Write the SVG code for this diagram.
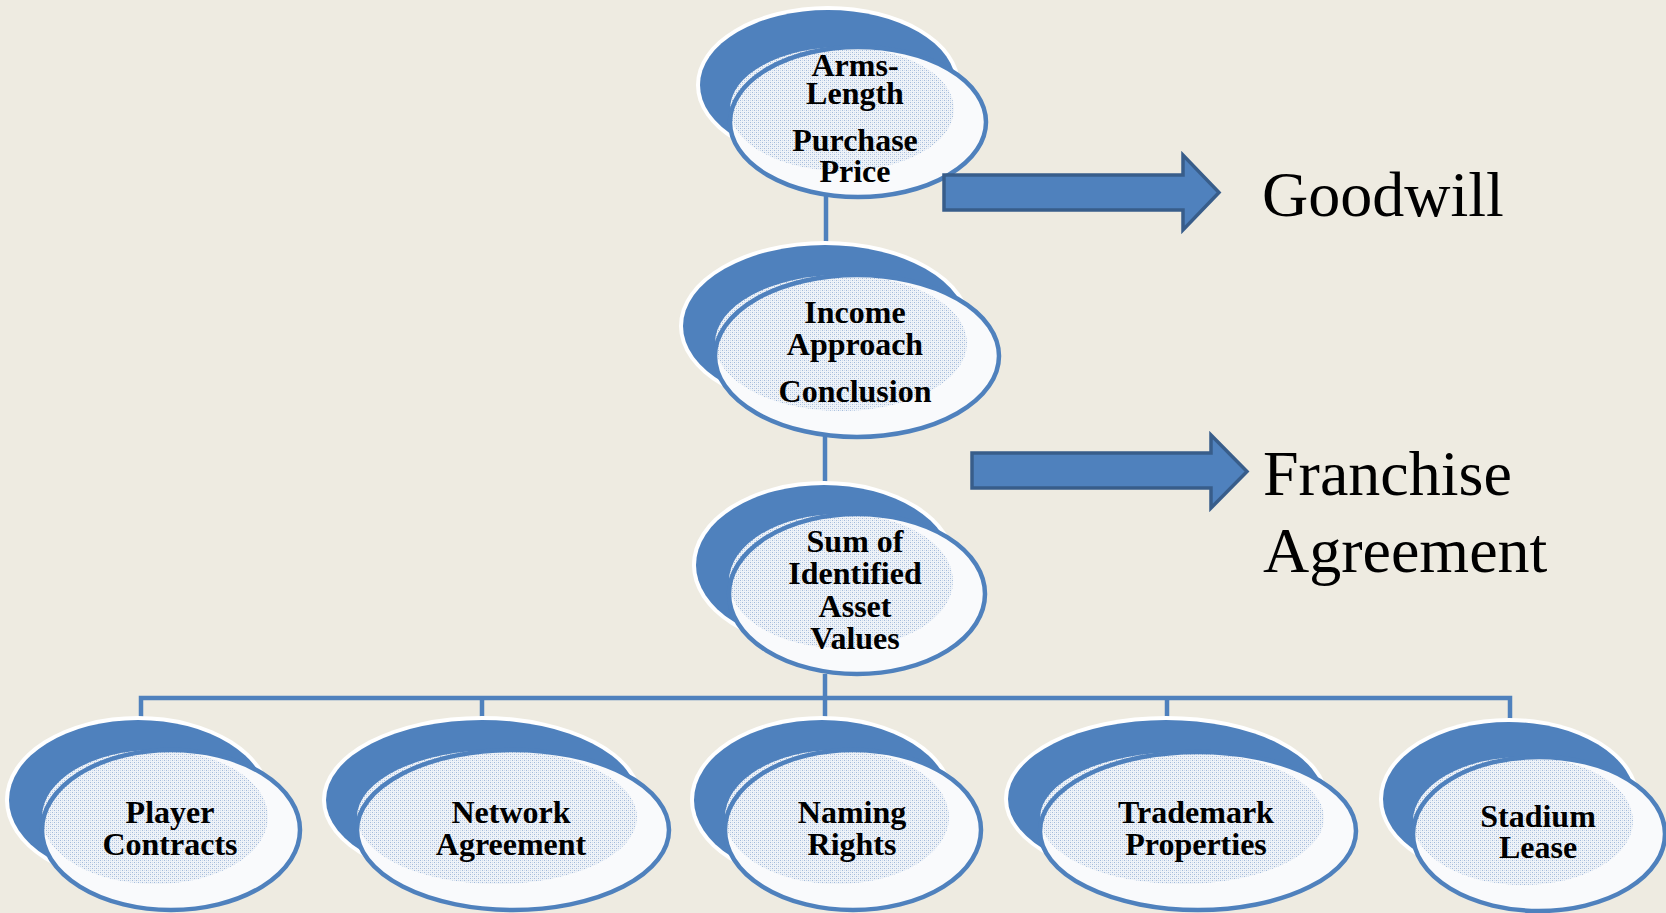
<svg xmlns="http://www.w3.org/2000/svg" width="1666" height="913" viewBox="0 0 1666 913">
<defs>
<pattern id="dots" width="4" height="4" patternUnits="userSpaceOnUse">
<rect width="4" height="4" fill="#eff3f8"/>
<rect x="0" y="0" width="1" height="1" fill="#a3bada"/>
<rect x="2" y="2" width="1" height="1" fill="#a3bada"/>
<rect x="2" y="0" width="1" height="1" fill="#cfdbec"/>
<rect x="0" y="2" width="1" height="1" fill="#cfdbec"/>
</pattern>
</defs>
<style>
.bg{fill:#eeebe1}
.edge{fill:#ffffff}
.back{fill:#4f81bd}
.face{fill:#f9fafc}
.inner{fill:url(#dots)}
.rim{fill:none;stroke:#4f81bd;stroke-width:4.5}
.lbl{font-family:"Liberation Serif","Times New Roman",serif;font-weight:bold;font-size:32px;fill:#000;text-anchor:middle}
.big{font-family:"Liberation Serif","Times New Roman",serif;font-size:64px;fill:#000}
.conn{fill:none;stroke:#4f81bd;stroke-width:4.5}
.arrow{fill:#4f81bd;stroke:#385d8a;stroke-width:3.5;stroke-linejoin:miter}
</style>
<rect class="bg" x="0" y="0" width="1666" height="913"/>

<g id="connectors">
<path class="conn" d="M826 195 V248"/>
<path class="conn" d="M825 435 V488"/>
<path class="conn" d="M825 674 V699"/>
<path class="conn" d="M141 724 V698 H1510 V726"/>
<path class="conn" d="M482 698 V724"/>
<path class="conn" d="M825 698 V724"/>
<path class="conn" d="M1167 698 V724"/>
</g>

<g id="node-arms-length">
<ellipse class="edge" cx="828" cy="85" rx="132" ry="79"/>
<ellipse class="back" cx="828" cy="85" rx="128" ry="75"/>
<ellipse class="face" cx="858" cy="122" rx="128" ry="75"/>
<ellipse class="inner" cx="842" cy="109" rx="112" ry="62"/>
<ellipse class="rim" cx="858" cy="122" rx="128" ry="75"/>
<text class="lbl" x="855" y="76">Arms-</text>
<text class="lbl" x="855" y="104">Length</text>
<text class="lbl" x="855" y="151">Purchase</text>
<text class="lbl" x="855" y="182">Price</text>
</g>

<g id="node-income">
<ellipse class="edge" cx="825" cy="326" rx="146" ry="85"/>
<ellipse class="back" cx="825" cy="326" rx="142" ry="81"/>
<ellipse class="face" cx="857" cy="356" rx="142" ry="81"/>
<ellipse class="inner" cx="841" cy="343" rx="126" ry="68"/>
<ellipse class="rim" cx="857" cy="356" rx="142" ry="81"/>
<text class="lbl" x="855" y="323">Income</text>
<text class="lbl" x="855" y="355">Approach</text>
<text class="lbl" x="855" y="402">Conclusion</text>
</g>

<g id="node-sum">
<ellipse class="edge" cx="824" cy="565" rx="132" ry="84"/>
<ellipse class="back" cx="824" cy="565" rx="128" ry="80"/>
<ellipse class="face" cx="857" cy="594" rx="128" ry="80"/>
<ellipse class="inner" cx="841" cy="581" rx="112" ry="67"/>
<ellipse class="rim" cx="857" cy="594" rx="128" ry="80"/>
<text class="lbl" x="855" y="552">Sum of</text>
<text class="lbl" x="855" y="584">Identified</text>
<text class="lbl" x="855" y="617">Asset</text>
<text class="lbl" x="855" y="649">Values</text>
</g>

<g id="node-player">
<ellipse class="edge" cx="138" cy="800" rx="133" ry="84"/>
<ellipse class="back" cx="138" cy="800" rx="129" ry="80"/>
<ellipse class="face" cx="171" cy="830" rx="129" ry="80"/>
<ellipse class="inner" cx="155" cy="817" rx="113" ry="67"/>
<ellipse class="rim" cx="171" cy="830" rx="129" ry="80"/>
<text class="lbl" x="170" y="823">Player</text>
<text class="lbl" x="170" y="855">Contracts</text>
</g>

<g id="node-network">
<ellipse class="edge" cx="482" cy="800" rx="160" ry="84"/>
<ellipse class="back" cx="482" cy="800" rx="156" ry="80"/>
<ellipse class="face" cx="513" cy="830" rx="156" ry="80"/>
<ellipse class="inner" cx="497" cy="817" rx="140" ry="67"/>
<ellipse class="rim" cx="513" cy="830" rx="156" ry="80"/>
<text class="lbl" x="511" y="823">Network</text>
<text class="lbl" x="511" y="855">Agreement</text>
</g>

<g id="node-naming">
<ellipse class="edge" cx="822" cy="800" rx="132" ry="84"/>
<ellipse class="back" cx="822" cy="800" rx="128" ry="80"/>
<ellipse class="face" cx="853" cy="830" rx="128" ry="80"/>
<ellipse class="inner" cx="837" cy="817" rx="112" ry="67"/>
<ellipse class="rim" cx="853" cy="830" rx="128" ry="80"/>
<text class="lbl" x="852" y="823">Naming</text>
<text class="lbl" x="852" y="855">Rights</text>
</g>

<g id="node-trademark">
<ellipse class="edge" cx="1166" cy="799" rx="162" ry="83"/>
<ellipse class="back" cx="1166" cy="799" rx="158" ry="79"/>
<ellipse class="face" cx="1198" cy="831" rx="158" ry="79"/>
<ellipse class="inner" cx="1182" cy="818" rx="142" ry="66"/>
<ellipse class="rim" cx="1198" cy="831" rx="158" ry="79"/>
<text class="lbl" x="1196" y="823">Trademark</text>
<text class="lbl" x="1196" y="855">Properties</text>
</g>

<g id="node-stadium">
<ellipse class="edge" cx="1509" cy="799" rx="130" ry="81"/>
<ellipse class="back" cx="1509" cy="799" rx="126" ry="77"/>
<ellipse class="face" cx="1539" cy="834" rx="126" ry="77"/>
<ellipse class="inner" cx="1523" cy="821" rx="110" ry="64"/>
<ellipse class="rim" cx="1539" cy="834" rx="126" ry="77"/>
<text class="lbl" x="1538" y="827">Stadium</text>
<text class="lbl" x="1538" y="858">Lease</text>
</g>

<g id="arrows">
<polygon class="arrow" points="944,175 1183,175 1183,155 1219,192.5 1183,230 1183,210 944,210"/>
<polygon class="arrow" points="972,453 1211,453 1211,435 1247,471.5 1211,508 1211,488 972,488"/>
</g>

<g id="labels">
<text class="big" x="1262" y="216">Goodwill</text>
<text class="big" x="1263" y="495">Franchise</text>
<text class="big" x="1263" y="572">Agreement</text>
</g>
</svg>
